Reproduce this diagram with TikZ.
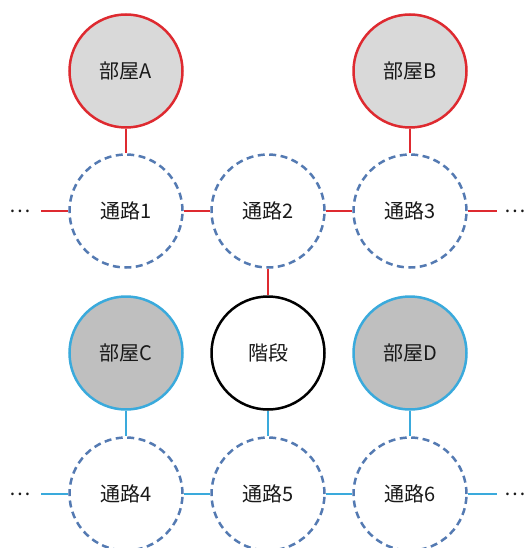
\documentclass[tikz,border=0pt]{standalone}
\usepackage{fontspec}
\setmainfont{Noto Sans CJK JP}
\definecolor{rred}{RGB}{222,42,48}
\definecolor{rblue}{RGB}{58,170,220}
\definecolor{dblue}{RGB}{84,122,178}
\definecolor{fillA}{RGB}{217,217,217}
\definecolor{fillC}{RGB}{191,191,191}
\begin{document}
\begin{tikzpicture}[x=1pt,y=-1pt,
  every node/.style={font=\fontsize{20}{24}\selectfont, text=black!90},
  base/.style={circle, minimum size=113pt, inner sep=0pt, line width=2.5pt},
  roomA/.style={base, draw=rred, fill=fillA},
  roomC/.style={base, draw=rblue, fill=fillC},
  passage/.style={base, draw=dblue, dash pattern=on 7pt off 4.5pt, fill=white},
  stairs/.style={base, draw=black, fill=white},
  rl/.style={draw=rred, line width=1.6pt},
  bl/.style={draw=rblue, line width=1.6pt}]
\useasboundingbox (0,0) rectangle (525,548);
% nodes
\node[roomA] (A) at (126,71) {部屋A};
\node[roomA] (B) at (410,71) {部屋B};
\node[passage] (P1) at (126,211) {通路1};
\node[passage] (P2) at (268,211) {通路2};
\node[passage] (P3) at (410,211) {通路3};
\node[roomC] (C) at (126,353) {部屋C};
\node[stairs] (S) at (268,353) {階段};
\node[roomC] (D) at (410,353) {部屋D};
\node[passage] (P4) at (126,494) {通路4};
\node[passage] (P5) at (268,494) {通路5};
\node[passage] (P6) at (410,494) {通路6};
% dots
\node (L1) at (20,211) {…};
\node (R1) at (515,211) {…};
\node (L2) at (20,494) {…};
\node (R2) at (515,494) {…};
\coordinate (l1) at (41,211);
\coordinate (r1) at (497,211);
\coordinate (l2) at (41,494);
\coordinate (r2) at (497,494);
% red connectors
\draw[rl] (A) -- (P1);
\draw[rl] (B) -- (P3);
\draw[rl] (P1) -- (P2);
\draw[rl] (P2) -- (P3);
\draw[rl] (P2) -- (S);
\draw[rl] (l1) -- (P1);
\draw[rl] (P3) -- (r1);
% blue connectors
\draw[bl] (C) -- (P4);
\draw[bl] (S) -- (P5);
\draw[bl] (D) -- (P6);
\draw[bl] (P4) -- (P5);
\draw[bl] (P5) -- (P6);
\draw[bl] (l2) -- (P4);
\draw[bl] (P6) -- (r2);
\end{tikzpicture}
\end{document}
